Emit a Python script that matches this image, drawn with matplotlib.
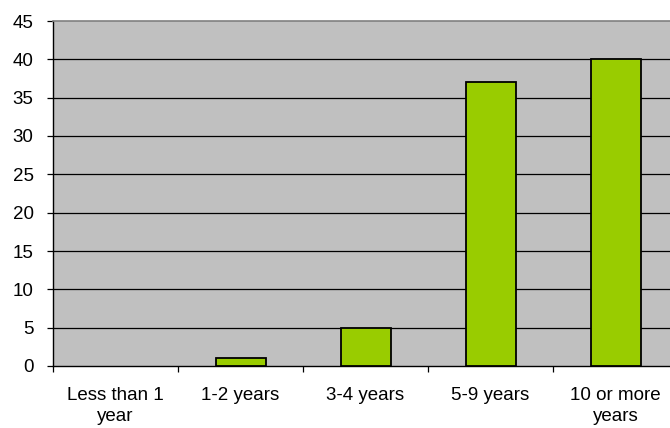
import matplotlib.pyplot as plt
import numpy as np

categories = ["Less than 1\nyear", "1-2 years", "3-4 years", "5-9 years", "10 or more\nyears"]
values = [0, 1, 5, 37, 40]
yticks = [0, 5, 10, 15, 20, 25, 30, 35, 40, 45]

plt.rcParams["font.family"] = ["Liberation Sans", "DejaVu Sans"]

fig = plt.figure(figsize=(6.7, 4.28), dpi=100)
ax = fig.add_axes([53 / 670, 1 - 366 / 428, 625 / 670, 345 / 428])
ax.set_facecolor("#C0C0C0")

x = np.arange(len(categories))
bars = ax.bar(x, values, width=0.4, color="#99CC00", edgecolor="black", linewidth=1.3, zorder=3)
for b in bars:
    if b.get_height() == 0:
        b.set_visible(False)  # excel draws nothing for an empty bar

ax.set_xlim(-0.5, len(categories) - 0.5)
ax.set_ylim(0, 45)
ax.set_yticks(yticks)
for y in yticks[1:-1]:
    ax.axhline(y, color="black", lw=0.9, zorder=1)

ax.set_xticks(x)
ax.set_xticklabels(categories, fontsize=13.5, linespacing=1.3)
ax.set_xticks(np.arange(-0.5, len(categories), 1.0), minor=True)
ax.tick_params(axis="x", which="major", length=0, pad=15)
ax.tick_params(axis="x", which="minor", length=4, width=0.9, color="black", direction="out")
ax.tick_params(axis="y", length=4, width=0.9, pad=10, labelsize=13.5)

ax.spines["right"].set_visible(False)
ax.spines["top"].set_color("#808080")
ax.spines["top"].set_linewidth(1.2)
ax.spines["left"].set_linewidth(1.0)
ax.spines["bottom"].set_linewidth(1.0)

fig.savefig("out.png", dpi=100)
